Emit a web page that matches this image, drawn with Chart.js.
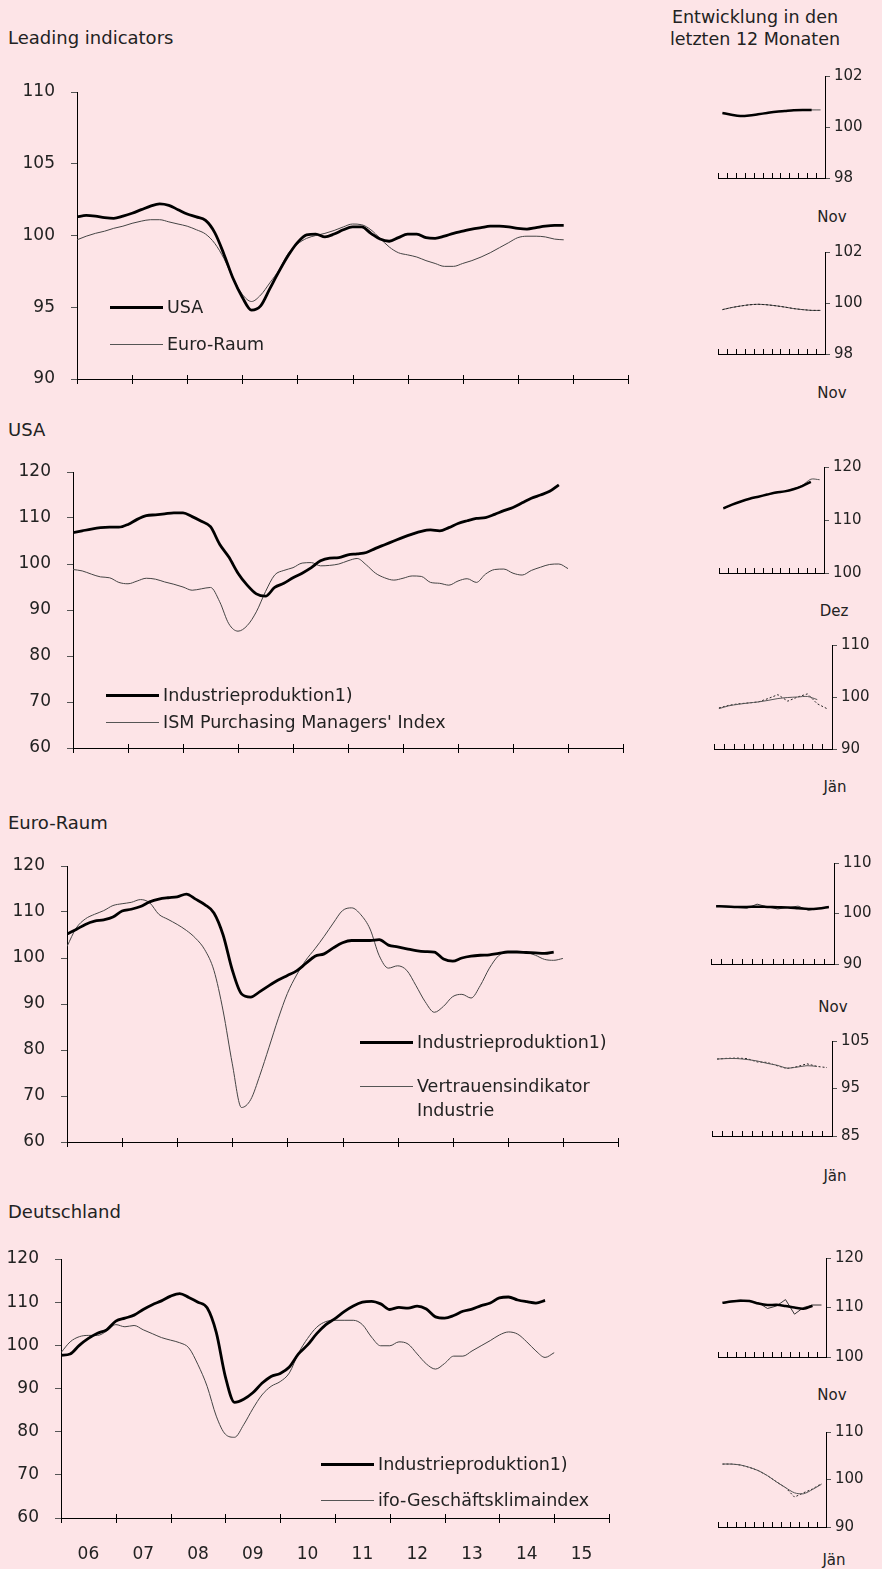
<!DOCTYPE html>
<html>
<head>
<meta charset="utf-8">
<script src="https://cdn.jsdelivr.net/npm/chart.js@4.4.1/dist/chart.umd.min.js"></script>
<style>
body { margin: 0; background: #fde4e7; font-family: 'DejaVu Sans', sans-serif; color: #222; }
#page { position: relative; width: 882px; height: 1569px; overflow: hidden; }
.box { position: absolute; }
.t { position: absolute; transform: translateY(-50%); white-space: nowrap; line-height: 1.2; font-size: 18px; }
.c { position: absolute; transform: translate(-50%, -50%); white-space: nowrap; line-height: 1.2; font-size: 15px; }
.leg { position: absolute; display: flex; align-items: center; transform: translateY(-50%); white-space: nowrap; font-size: 17.5px; }
.ln { display: inline-block; width: 53px; margin-right: 4px; border-top: 3px solid #000; }
.ln.thin { border-top: 1px solid #555; }
</style>
</head>
<body>
<div id="page">
  <div class="t" style="left:8px;top:38px">Leading indicators</div>
  <div class="c" style="left:755px;top:17px;font-size:17.5px">Entwicklung in den</div>
  <div class="c" style="left:755px;top:39px;font-size:17.5px">letzten 12 Monaten</div>
  <div class="t" style="left:8px;top:430px">USA</div>
  <div class="t" style="left:8px;top:823px">Euro-Raum</div>
  <div class="t" style="left:8px;top:1212px">Deutschland</div>

  <div class="box" id="bp1"><canvas id="p1"></canvas></div>
  <div class="box" id="bp2"><canvas id="p2"></canvas></div>
  <div class="box" id="bp3"><canvas id="p3"></canvas></div>
  <div class="box" id="bp4"><canvas id="p4"></canvas></div>

  <div class="leg" style="left:110px;top:307px"><span class="ln"></span>USA</div>
  <div class="leg" style="left:110px;top:344px"><span class="ln thin"></span>Euro-Raum</div>
  <div class="leg" style="left:106px;top:695px"><span class="ln"></span>Industrieproduktion1)</div>
  <div class="leg" style="left:106px;top:722px"><span class="ln thin"></span>ISM Purchasing Managers' Index</div>
  <div class="leg" style="left:360px;top:1042px"><span class="ln"></span>Industrieproduktion1)</div>
  <div class="leg" style="left:360px;top:1086px"><span class="ln thin"></span>Vertrauensindikator</div>
  <div class="leg" style="left:417px;top:1110px">Industrie</div>
  <div class="leg" style="left:321px;top:1464px"><span class="ln"></span>Industrieproduktion1)</div>
  <div class="leg" style="left:321px;top:1500px"><span class="ln thin"></span>ifo-Geschäftsklimaindex</div>

  <div class="box" id="bm1"><canvas id="m1"></canvas></div>
  <div class="box" id="bm2"><canvas id="m2"></canvas></div>
  <div class="box" id="bm3"><canvas id="m3"></canvas></div>
  <div class="box" id="bm4"><canvas id="m4"></canvas></div>
  <div class="box" id="bm5"><canvas id="m5"></canvas></div>
  <div class="box" id="bm6"><canvas id="m6"></canvas></div>
  <div class="box" id="bm7"><canvas id="m7"></canvas></div>
  <div class="box" id="bm8"><canvas id="m8"></canvas></div>

  <div class="c" style="left:832px;top:217px">Nov</div>
  <div class="c" style="left:832px;top:393px">Nov</div>
  <div class="c" style="left:834px;top:611px">Dez</div>
  <div class="c" style="left:835px;top:787px">Jän</div>
  <div class="c" style="left:833px;top:1007px">Nov</div>
  <div class="c" style="left:835px;top:1176px">Jän</div>
  <div class="c" style="left:832px;top:1395px">Nov</div>
  <div class="c" style="left:834px;top:1560px">Jän</div>
</div>
<script>
// months since Jan 2006, every second month
const months = [0,2,4,6,8,10,12,14,16,18,20,22,24,26,28,30,32,34,36,38,40,42,44,46,48,50,52,54,56,58,60,62,64,66,68,70,72,74,76,78,80,82,84,86,88,90,92,94,96,98,100,102,104,106,108];
const yearEdges = [0,12,24,36,48,60,72,84,96,108,120];
const yearCenters = [6,18,30,42,54,66,78,90,102,114];
const yearLabels = ['06','07','08','09','10','11','12','13','14','15'];

// Leading indicators
const leadUSA = [101.3,101.4,101.35,101.25,101.2,101.35,101.55,101.8,102.05,102.2,
  102.1,101.8,101.5,101.3,101.05,100.2,98.7,97.0,95.7,94.8,
  95.1,96.3,97.5,98.6,99.5,100.05,100.1,99.9,100.1,100.4,
  100.6,100.6,100.15,99.75,99.6,99.85,100.1,100.1,99.85,99.8,
  99.95,100.15,100.3,100.45,100.55,100.65,100.65,100.6,100.5,100.45,
  100.55,100.65,100.7,100.7];
const leadEuro = [99.7,99.95,100.15,100.3,100.5,100.65,100.85,101.0,101.1,101.1,
  100.95,100.8,100.65,100.4,100.1,99.45,98.4,97.0,95.9,95.4,
  95.85,96.7,97.6,98.75,99.4,99.8,100.0,100.15,100.35,100.6,
  100.8,100.75,100.4,99.8,99.2,98.8,98.65,98.5,98.25,98.05,
  97.85,97.85,98.05,98.25,98.5,98.8,99.15,99.5,99.85,99.95,
  99.95,99.9,99.75,99.7];

// USA
const usaInd = [106.8,107.2,107.6,107.9,108.0,108.0,108.6,109.7,110.5,110.7,
  110.9,111.1,111.1,110.3,109.3,108.1,104.3,101.5,98.0,95.4,
  93.5,93.0,94.9,95.8,97.0,98.0,99.2,100.7,101.3,101.4,
  102.0,102.2,102.5,103.4,104.2,105.0,105.8,106.5,107.1,107.4,
  107.2,107.9,108.8,109.4,109.9,110.1,110.8,111.6,112.3,113.3,
  114.3,115.0,115.8,117.2];
const usaISM = [98.8,98.5,97.8,97.2,97.0,96.0,95.7,96.3,96.9,96.7,
  96.1,95.6,95.0,94.3,94.6,94.9,91.8,87.0,85.4,86.6,
  89.6,94.0,97.6,98.6,99.2,100.2,100.3,99.6,99.7,100.0,
  100.7,101.2,99.8,98.0,97.0,96.5,96.9,97.4,97.3,96.0,
  95.8,95.4,96.3,96.8,96.0,97.8,98.8,98.9,98.0,97.6,
  98.6,99.3,99.9,100.0,99.0];

// Euro-Raum
const euroInd = [105.2,106.2,107.3,108.0,108.3,108.9,110.2,110.6,111.2,112.2,
  112.8,113.1,113.3,113.9,112.8,111.6,109.8,105.0,97.4,92.2,
  91.5,92.7,94.0,95.2,96.2,97.2,98.8,100.4,100.9,102.2,
  103.3,103.8,103.8,103.8,104.0,102.8,102.4,102.0,101.6,101.4,
  101.3,99.8,99.3,100.0,100.4,100.6,100.7,101.0,101.3,101.3,
  101.2,101.1,101.0,101.3];
const euroVert = [102.5,106.5,108.5,109.5,110.3,111.4,111.8,112.1,112.7,112.0,
  109.5,108.4,107.3,106.0,104.3,101.8,97.3,88.5,77.0,67.5,
  69.2,74.5,80.6,86.8,92.3,96.3,99.5,102.0,104.7,107.6,
  110.3,110.9,109.4,106.3,100.5,97.8,98.3,97.3,94.0,90.5,
  88.2,89.5,91.6,92.1,91.3,94.0,97.8,100.5,101.3,101.3,
  101.2,100.6,99.7,99.5,99.9];

// Deutschland
const deInd = [97.7,98.0,100.0,101.6,102.8,103.6,105.6,106.3,107.0,108.3,
  109.4,110.3,111.4,112.0,111.1,110.0,108.7,103.0,92.7,86.8,
  87.5,89.0,91.2,92.8,93.5,95.0,98.0,100.1,102.7,104.8,
  106.2,107.8,109.1,110.0,110.2,109.6,108.3,108.8,108.6,109.1,
  108.4,106.6,106.3,106.9,107.9,108.4,109.2,109.8,111.0,111.2,
  110.5,110.1,109.8,110.4];
const deIfo = [98.3,100.8,102.0,102.3,102.3,103.3,104.8,104.3,104.6,103.6,
  102.7,101.8,101.2,100.6,99.4,95.5,90.5,83.6,79.4,78.7,
  81.6,85.3,88.5,90.5,91.6,93.6,98.2,101.6,104.2,105.5,
  105.8,105.8,105.8,104.8,101.9,99.9,99.9,100.8,100.3,98.0,
  95.7,94.5,95.8,97.5,97.5,98.7,99.9,101.1,102.4,103.1,
  102.6,100.8,98.7,97.2,98.3];

// last 12 months (small charts)
const miniMonths = [0,1,2,3,4,5,6,7,8,9,10,11];
const miniEdges = [-0.5,0.5,1.5,2.5,3.5,4.5,5.5,6.5,7.5,8.5,9.5,10.5,11.5];
const m1Trend = [100.55,100.48,100.43,100.45,100.5,100.55,100.6,100.63,100.66,100.67,100.67];
const m1Raw   = [100.55,100.48,100.43,100.45,100.5,100.55,100.6,100.63,100.66,100.67,100.67,100.67];
const m2Trend = [99.74,99.82,99.88,99.93,99.95,99.93,99.89,99.84,99.78,99.74,99.71,99.71];
const m2Raw   = [99.74,99.82,99.88,99.93,99.95,99.93,99.89,99.84,99.78,99.74,99.71,99.71];
const m3Trend = [112.2,112.9,113.5,114.0,114.4,114.8,115.2,115.4,115.8,116.4,117.2];
const m3Raw   = [112.1,112.9,113.5,114.0,114.4,114.8,115.1,115.4,115.9,116.5,117.7,117.6];
const m4Trend = [97.75,98.3,98.6,98.85,99.05,99.35,99.7,99.9,100.0,100.1,99.5];
const m4Raw   = [97.9,98.4,98.7,98.85,99.05,99.7,100.45,99.2,100.0,100.6,98.7,97.75];
const m5Trend = [101.45,101.4,101.3,101.3,101.35,101.3,101.25,101.2,101.05,100.9,101.0,101.3];
const m5Raw   = [101.5,101.3,101.2,101.05,101.85,101.3,100.9,101.2,101.45,100.65,101.0,101.3];
const m6Trend = [101.2,101.3,101.3,101.1,100.8,100.3,99.9,99.3,99.5,99.8,99.65];
const m6Raw   = [101.2,101.35,101.4,101.3,100.6,100.5,99.8,99.2,99.6,100.2,99.65,99.4];
const m7Trend = [110.95,111.2,111.35,111.3,110.8,110.5,110.55,110.3,110.0,109.75,110.35];
const m7Raw   = [110.95,111.3,111.5,111.2,110.95,109.8,110.3,111.6,108.65,110.0,110.5,110.5];
const m8Trend = [103.25,103.25,103.05,102.55,101.85,100.8,99.5,98.3,97.2,97.0,97.9,99.0];
const m8Raw   = [103.25,103.25,103.05,102.55,101.85,100.8,99.5,98.3,96.3,97.2,98.0,99.15];

const FONT = 'DejaVu Sans';
const pts = (xs, ys) => ys.map((v, i) => ({x: xs[i], y: v}));

// tick marks on the x axis (crossing or pointing up)
const tickMarks = {
  id: 'tickMarks',
  afterDraw(chart, args, opts) {
    const sx = chart.scales.x, ctx = chart.ctx, y0 = Math.round(chart.chartArea.bottom);
    ctx.save();
    ctx.strokeStyle = '#000';
    ctx.lineWidth = 1;
    opts.values.forEach(v => {
      const px = Math.round(sx.getPixelForValue(v)) + 0.5;
      ctx.beginPath();
      ctx.moveTo(px, y0 - opts.up);
      ctx.lineTo(px, y0 + opts.down);
      ctx.stroke();
    });
    ctx.restore();
  }
};

const thick = (data) => ({data, borderColor: '#000', borderWidth: 2.8, pointRadius: 0, cubicInterpolationMode: 'monotone'});
const thin = (data) => ({data, borderColor: '#444', borderWidth: 1, pointRadius: 0, cubicInterpolationMode: 'monotone'});

function place(id, l, t, w, h) {
  const box = document.getElementById('b' + id);
  box.style.left = l + 'px';
  box.style.top = t + 'px';
  box.style.width = w + 'px';
  box.style.height = h + 'px';
}

function mainChart(id, cfg) {
  const padTop = 14;
  place(id, 0, cfg.t - padTop, cfg.r + 12, cfg.b - cfg.t + padTop + cfg.xh);
  new Chart(document.getElementById(id), {
    type: 'line',
    data: {datasets: cfg.sets},
    plugins: [tickMarks],
    options: {
      animation: false,
      responsive: true,
      maintainAspectRatio: false,
      layout: {padding: {top: padTop, right: 12, left: 0, bottom: 0}},
      plugins: {
        legend: {display: false},
        tooltip: {enabled: false},
        tickMarks: {values: yearEdges, up: 4, down: 5}
      },
      scales: {
        x: {
          type: 'linear', min: 0, max: 120,
          grid: {display: false, drawTicks: false},
          border: {display: true, color: '#000', width: 1},
          afterBuildTicks: s => { s.ticks = yearCenters.map(v => ({value: v})); },
          ticks: {
            display: !!cfg.years, padding: 26, color: '#222',
            font: {family: FONT, size: 17},
            callback: (v, i) => yearLabels[i]
          },
          afterFit: s => { s.height = cfg.xh; s.paddingLeft = 0; s.paddingRight = 0; }
        },
        y: {
          min: cfg.min, max: cfg.max,
          ticks: {stepSize: cfg.step, color: '#222', padding: 16, font: {family: FONT, size: 17}},
          grid: {drawOnChartArea: false, tickLength: 6, color: '#555'},
          border: {display: true, color: '#000', width: 1},
          afterFit: s => { s.width = cfg.l; s.paddingTop = 0; s.paddingBottom = 0; }
        }
      }
    }
  });
}

mainChart('p1', {l: 77, r: 628, t: 92, b: 379, xh: 13, min: 90, max: 110, step: 5,
  sets: [thick(pts(months, leadUSA)), thin(pts(months, leadEuro))]});
mainChart('p2', {l: 73, r: 623, t: 472, b: 748, xh: 12, min: 60, max: 120, step: 10,
  sets: [thick(pts(months, usaInd)), thin(pts(months, usaISM))]});
mainChart('p3', {l: 67, r: 618, t: 866, b: 1142, xh: 13, min: 60, max: 120, step: 10,
  sets: [thick(pts(months, euroInd)), thin(pts(months, euroVert))]});
mainChart('p4', {l: 61, r: 609, t: 1259, b: 1518, xh: 51, min: 60, max: 120, step: 10, years: true,
  sets: [thick(pts(months, deInd)), thin(pts(months, deIfo))]});

function miniChart(id, cfg) {
  const padTop = 10, xh = 12;
  place(id, cfg.l, cfg.t - padTop, cfg.r - cfg.l + 45, cfg.b - cfg.t + padTop + xh);
  new Chart(document.getElementById(id), {
    type: 'line',
    data: {datasets: cfg.sets},
    plugins: [tickMarks],
    options: {
      animation: false,
      responsive: true,
      maintainAspectRatio: false,
      layout: {padding: {top: padTop, right: 0, left: 0, bottom: 0}},
      plugins: {
        legend: {display: false},
        tooltip: {enabled: false},
        tickMarks: {values: miniEdges, up: 5, down: 0}
      },
      scales: {
        x: {
          type: 'linear', min: -0.5, max: 11.5,
          grid: {display: false, drawTicks: false},
          border: {display: true, color: '#000', width: 1},
          ticks: {display: false},
          afterFit: s => { s.height = xh; s.paddingLeft = 0; s.paddingRight = 0; }
        },
        y: {
          position: 'right', min: cfg.min, max: cfg.max,
          ticks: {stepSize: cfg.step, color: '#222', padding: 4, font: {family: FONT, size: 15}},
          grid: {drawOnChartArea: false, tickLength: 5, color: '#555'},
          border: {display: true, color: '#000', width: 1},
          afterFit: s => { s.width = 45; s.paddingTop = 0; s.paddingBottom = 0; }
        }
      }
    }
  });
}

const miniThick = d => ({data: pts(miniMonths, d), borderColor: '#000', borderWidth: 2.5, pointRadius: 0, tension: 0.3});
const miniThin = d => ({data: pts(miniMonths, d), borderColor: '#555', borderWidth: 1, pointRadius: 0, tension: 0.3});
const miniDot = d => ({data: pts(miniMonths, d), borderColor: '#222', borderWidth: 1, borderDash: [2, 2], pointRadius: 0, tension: 0});
const miniRaw = d => ({data: pts(miniMonths, d), borderColor: '#333', borderWidth: 1, pointRadius: 0, tension: 0});

miniChart('m1', {l: 718, r: 825, t: 76, b: 178, min: 98, max: 102, step: 2, sets: [miniThick(m1Trend), miniThin(m1Raw)]});
miniChart('m2', {l: 718, r: 825, t: 252, b: 354, min: 98, max: 102, step: 2, sets: [miniDot(m2Raw), miniThin(m2Trend)]});
miniChart('m3', {l: 719, r: 824, t: 467, b: 573, min: 100, max: 120, step: 10, sets: [miniThick(m3Trend), miniThin(m3Raw)]});
miniChart('m4', {l: 714, r: 832, t: 645, b: 749, min: 90, max: 110, step: 10, sets: [miniThin(m4Trend), miniDot(m4Raw)]});
miniChart('m5', {l: 711, r: 834, t: 863, b: 964, min: 90, max: 110, step: 10, sets: [miniThick(m5Trend), miniRaw(m5Raw)]});
miniChart('m6', {l: 712, r: 832, t: 1041, b: 1136, min: 85, max: 105, step: 10, sets: [miniThin(m6Trend), miniDot(m6Raw)]});
miniChart('m7', {l: 718, r: 826, t: 1258, b: 1357, min: 100, max: 120, step: 10, sets: [miniThick(m7Trend), miniRaw(m7Raw)]});
miniChart('m8', {l: 718, r: 826, t: 1432, b: 1527, min: 90, max: 110, step: 10, sets: [miniThin(m8Trend), miniDot(m8Raw)]});
</script>
</body>
</html>
